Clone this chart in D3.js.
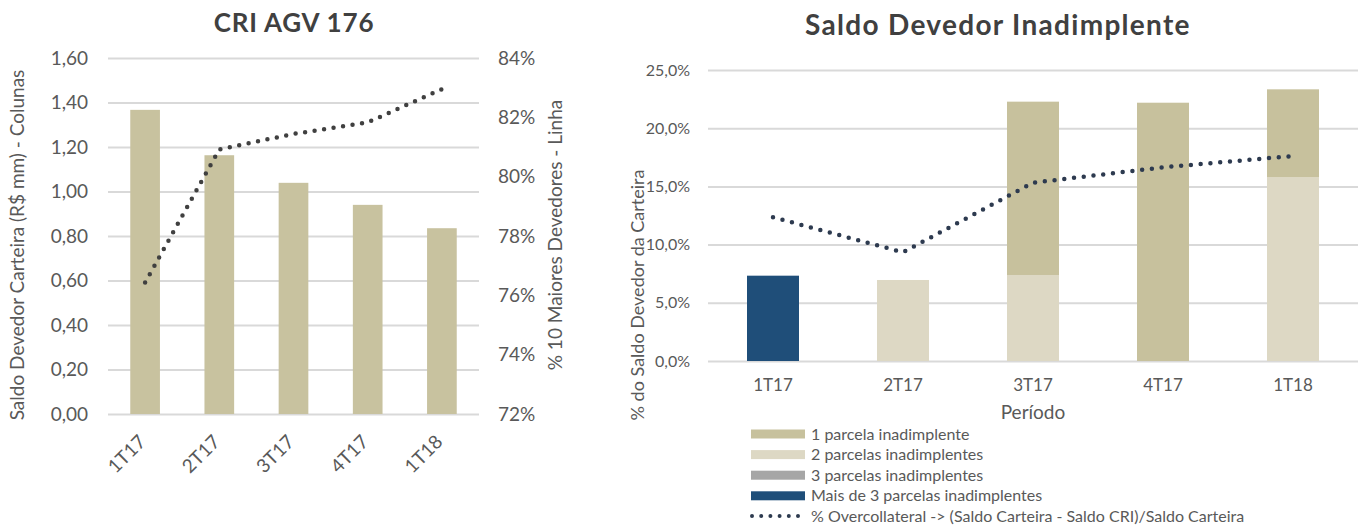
<!DOCTYPE html>
<html>
<head>
<meta charset="utf-8">
<script src="https://cdn.jsdelivr.net/npm/d3@7"></script>
<style>
  body { margin: 0; background: #fff; }
  svg { display: block; font-family: Lato, "Open Sans", sans-serif; }
</style>
</head>
<body>
<div id="chart"></div>
<script>
// data
var periods = ["1T17", "2T17", "3T17", "4T17", "1T18"];
var saldoCarteira = [1.367, 1.163, 1.039, 0.940, 0.835];
var top10Devedores = [0.7643, 0.8092, 0.8144, 0.8183, 0.8295];

var parcela1 = [0, 0, 0.1489, 0.2219, 0.0756];
var parcela2 = [0, 0.0696, 0.0739, 0, 0.1578];
var parcela3 = [0, 0, 0, 0, 0];
var parcelaMais3 = [0.0733, 0, 0, 0, 0];
var overcollateral = [0.1235, 0.0934, 0.1532, 0.1664, 0.1761];

var legendLabels = ["1 parcela inadimplente", "2 parcelas inadimplentes", "3 parcelas inadimplentes", "Mais de 3 parcelas inadimplentes"];
var overLabel = "% Overcollateral -> (Saldo Carteira - Saldo CRI)/Saldo Carteira";

var br = d3.formatLocale({decimal: ",", thousands: ".", grouping: [3], currency: ["R$", ""], percent: "%"});

var svg = d3.select("#chart").append("svg")
    .attr("width", 1365)
    .attr("height", 525);

var tickColor = "#595959",
    gridColor = "#d9d9d9";

// ---------- left chart ----------
var left = svg.append("g");

var x1 = d3.scaleBand().domain(periods).range([108, 479]).paddingInner(0.6).paddingOuter(0.3);
var y1 = d3.scaleLinear().domain([0, 1.6]).range([414, 58]);
var y1r = d3.scaleLinear().domain([0.72, 0.84]).range([414, 58]);

left.append("g")
    .attr("transform", "translate(108,0)")
    .call(d3.axisLeft(y1).ticks(8).tickSize(-371).tickPadding(20).tickFormat(br.format(".2f")))
    .call(function(g) {
        g.select(".domain").remove();
        g.selectAll(".tick line").attr("stroke", gridColor).attr("stroke-width", 2);
        g.selectAll(".tick text").attr("fill", tickColor).style("font-size", "19px").style("font-family", "Lato");
    });

left.append("g")
    .attr("transform", "translate(479,0)")
    .call(d3.axisRight(y1r).ticks(6).tickSize(0).tickPadding(19).tickFormat(br.format(".0%")))
    .call(function(g) {
        g.select(".domain").remove();
        g.selectAll(".tick text").attr("fill", tickColor).style("font-size", "19px").style("font-family", "Lato");
    });

left.selectAll(".bar")
    .data(saldoCarteira)
    .enter().append("rect")
    .attr("x", function(d, i) { return x1(periods[i]); })
    .attr("width", x1.bandwidth())
    .attr("y", function(d) { return y1(d); })
    .attr("height", function(d) { return y1(0) - y1(d); })
    .attr("fill", "#c8c29f");

left.append("path")
    .datum(top10Devedores)
    .attr("d", d3.line()
        .x(function(d, i) { return x1(periods[i]) + x1.bandwidth() / 2; })
        .y(function(d) { return y1r(d); }))
    .attr("fill", "none")
    .attr("stroke", "#404040")
    .attr("stroke-width", 4.5)
    .attr("stroke-linecap", "round")
    .attr("stroke-dasharray", "0 9.6");

left.selectAll(".xlab")
    .data(periods)
    .enter().append("text")
    .attr("transform", function(d) { return "translate(" + (x1(d) + x1.bandwidth() / 2 + 2) + ",443) rotate(-45)"; })
    .attr("text-anchor", "end")
    .attr("fill", tickColor)
    .style("font-size", "19px")
    .text(function(d) { return d; });

left.append("text")
    .attr("x", 294)
    .attr("y", 32)
    .attr("text-anchor", "middle")
    .attr("fill", "#404040")
    .style("font-size", "26px")
    .style("font-weight", "bold")
    .style("letter-spacing", "0.8px")
    .text("CRI AGV 176");

left.append("text")
    .attr("transform", "translate(24,245) rotate(-90)")
    .attr("text-anchor", "middle")
    .attr("fill", tickColor)
    .style("font-size", "19px")
    .text("Saldo Devedor Carteira (R$ mm) - Colunas");

left.append("text")
    .attr("transform", "translate(562,235) rotate(-90)")
    .attr("text-anchor", "middle")
    .attr("fill", tickColor)
    .style("font-size", "19px")
    .text("% 10 Maiores Devedores - Linha");

// ---------- right chart ----------
var right = svg.append("g");

var x2 = d3.scaleBand().domain(periods).range([708, 1358]).paddingInner(0.6).paddingOuter(0.3);
var y2 = d3.scaleLinear().domain([0, 0.25]).range([361, 70]);

right.append("g")
    .attr("transform", "translate(708,0)")
    .call(d3.axisLeft(y2).ticks(5).tickSize(-650).tickPadding(18).tickFormat(br.format(".1%")))
    .call(function(g) {
        g.select(".domain").remove();
        g.selectAll(".tick line").attr("stroke", gridColor).attr("stroke-width", 2);
        g.selectAll(".tick text").attr("fill", tickColor).style("font-size", "16px").style("font-family", "Lato");
    });

var keys = ["p2", "p3", "pm", "p1"];
var colors = {p1: "#c7c19d", p2: "#ddd8c4", p3: "#a6a6a6", pm: "#1f4e79"};
var rows = periods.map(function(p, i) {
    return {period: p, p1: parcela1[i], p2: parcela2[i], p3: parcela3[i], pm: parcelaMais3[i]};
});
var series = d3.stack().keys(keys)(rows);

right.selectAll(".layer")
    .data(series)
    .enter().append("g")
    .attr("fill", function(d) { return colors[d.key]; })
    .selectAll("rect")
    .data(function(d) { return d; })
    .enter().append("rect")
    .attr("x", function(d) { return x2(d.data.period); })
    .attr("width", x2.bandwidth())
    .attr("y", function(d) { return y2(d[1]); })
    .attr("height", function(d) { return y2(d[0]) - y2(d[1]); });

right.append("path")
    .datum(overcollateral)
    .attr("d", d3.line()
        .x(function(d, i) { return x2(periods[i]) + x2.bandwidth() / 2; })
        .y(function(d) { return y2(d); }))
    .attr("fill", "none")
    .attr("stroke", "#2d3a4f")
    .attr("stroke-width", 4.5)
    .attr("stroke-linecap", "round")
    .attr("stroke-dasharray", "0 9.8");

right.append("g")
    .attr("transform", "translate(0,361)")
    .call(d3.axisBottom(x2).tickSize(0).tickPadding(18))
    .call(function(g) {
        g.select(".domain").remove();
        g.selectAll(".tick text").attr("fill", tickColor).style("font-size", "17px").style("font-family", "Lato");
    });

right.append("text")
    .attr("x", 998)
    .attr("y", 35)
    .attr("text-anchor", "middle")
    .attr("fill", "#404040")
    .style("font-size", "28px")
    .style("font-weight", "bold")
    .style("letter-spacing", "1.3px")
    .text("Saldo Devedor Inadimplente");

right.append("text")
    .attr("x", 1033)
    .attr("y", 419)
    .attr("text-anchor", "middle")
    .attr("fill", tickColor)
    .style("font-size", "19px")
    .text("Período");

right.append("text")
    .attr("transform", "translate(644,295) rotate(-90)")
    .attr("text-anchor", "middle")
    .attr("fill", tickColor)
    .style("font-size", "18px")
    .text("% do Saldo Devedor da Carteira");

// legend
var legendKeys = ["p1", "p2", "p3", "pm"];
var legend = right.append("g").attr("transform", "translate(751,0)");

legendKeys.forEach(function(k, i) {
    var cy = 434 + i * 20.6;
    legend.append("rect")
        .attr("x", 0)
        .attr("y", cy - 4.5)
        .attr("width", 54)
        .attr("height", 9)
        .attr("fill", colors[k]);
    legend.append("text")
        .attr("x", 60)
        .attr("y", cy + 5.5)
        .attr("fill", tickColor)
        .style("font-size", "16px")
        .text(legendLabels[i]);
});

legend.append("line")
    .attr("x1", 1).attr("x2", 54)
    .attr("y1", 516).attr("y2", 516)
    .attr("stroke", "#2d3a4f")
    .attr("stroke-width", 4)
    .attr("stroke-linecap", "round")
    .attr("stroke-dasharray", "0 9.2");

legend.append("text")
    .attr("x", 60)
    .attr("y", 521.5)
    .attr("fill", tickColor)
    .style("font-size", "16px")
    .text(overLabel);
</script>
</body>
</html>
